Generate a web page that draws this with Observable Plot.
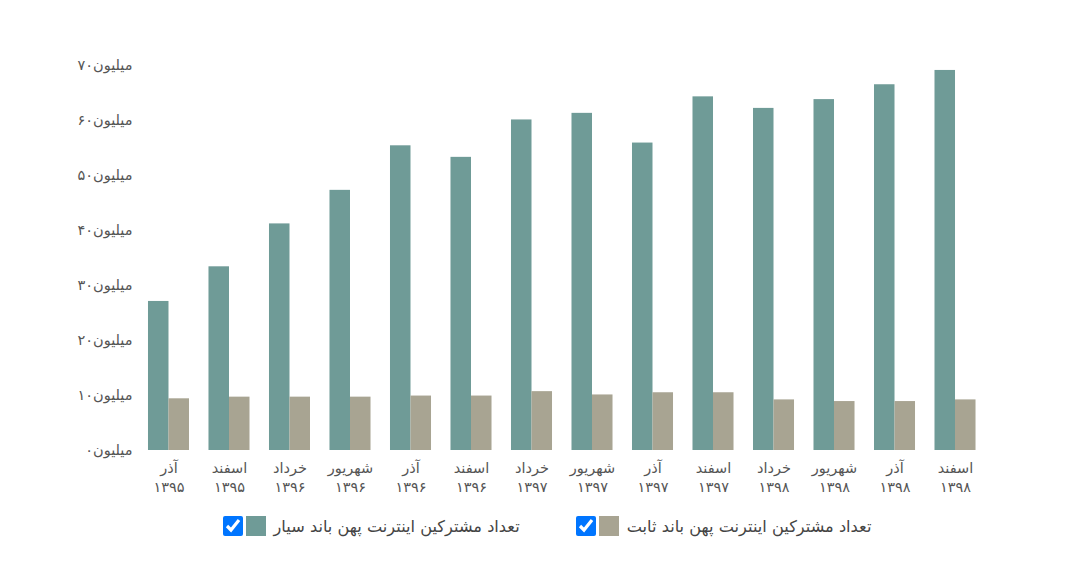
<!DOCTYPE html>
<html>
<head>
<meta charset="utf-8">
<script src="https://cdn.jsdelivr.net/npm/d3@7"></script>
<script src="https://cdn.jsdelivr.net/npm/@observablehq/plot@0.6"></script>
<style>
  html, body { margin: 0; padding: 0; background: #fff; }
  body { width: 1080px; height: 586px; overflow: hidden; font-family: "DejaVu Sans", sans-serif; }
  #legend { display: flex; justify-content: center; align-items: center; gap: 56px; margin-top: 16px; padding-left: 14px; color: #444; font-size: 16.2px; }
  .item { display: flex; align-items: center; direction: ltr; }
  .item input { width: 20px; height: 20px; margin: 0 3px 0 0; }
  .sw { width: 20px; height: 20px; margin-right: 8px; }
</style>
</head>
<body>
<div id="chart"></div>
<div id="legend"></div>
<script>
const months = ["آذر","اسفند","خرداد","شهریور","آذر","اسفند","خرداد","شهریور","آذر","اسفند","خرداد","شهریور","آذر","اسفند"];
const years = ["۱۳۹۵","۱۳۹۵","۱۳۹۶","۱۳۹۶","۱۳۹۶","۱۳۹۶","۱۳۹۷","۱۳۹۷","۱۳۹۷","۱۳۹۷","۱۳۹۸","۱۳۹۸","۱۳۹۸","۱۳۹۸"];
const mobile = [27.1, 33.4, 41.2, 47.3, 55.4, 53.3, 60.1, 61.3, 55.9, 64.3, 62.2, 63.8, 66.5, 69.1];
const fixed = [9.4, 9.7, 9.7, 9.7, 9.9, 9.9, 10.7, 10.1, 10.5, 10.5, 9.2, 8.9, 8.9, 9.2];
const seriesNames = ["تعداد مشترکین اینترنت پهن باند سیار", "تعداد مشترکین اینترنت پهن باند ثابت"];
const seriesColors = ["#6f9b97", "#a8a492"];
const yTicks = [0, 10, 20, 30, 40, 50, 60, 70];
const yTickLabels = ["میلیون۰","میلیون۱۰","میلیون۲۰","میلیون۳۰","میلیون۴۰","میلیون۵۰","میلیون۶۰","میلیون۷۰"];

const groups = months.map((m, i) => i);
const data = [];
groups.forEach(i => {
  data.push({g: i, s: seriesNames[0], v: mobile[i]});
  data.push({g: i, s: seriesNames[1], v: fixed[i]});
});

const chart = Plot.plot({
  width: 1080,
  height: 500,
  marginTop: 65,
  marginBottom: 50,
  marginLeft: 138,
  marginRight: 94.5,
  style: { fontFamily: "DejaVu Sans, sans-serif", color: "#555", background: "#fff" },
  fx: { domain: groups, paddingInner: 0.322, paddingOuter: 0.165, round: false, label: null },
  x: { domain: seriesNames, padding: 0, round: false, axis: null },
  y: { domain: [0, 70], label: null },
  color: { domain: seriesNames, range: seriesColors },
  marks: [
    Plot.barY(data, { fx: "g", x: "s", y: "v", fill: "s" }),
    Plot.axisY({ ticks: yTicks, tickFormat: (d) => yTickLabels[yTicks.indexOf(d)], tickSize: 0, tickPadding: 0, dx: -16, fontSize: 14.5, label: null, fill: "#555" }),
    Plot.axisFx({ anchor: "bottom", tickFormat: (i) => months[i] + "\n" + years[i], tickSize: 0, tickPadding: 9, fontSize: 14.5, lineHeight: 1.3, label: null, fill: "#555" })
  ]
});
document.getElementById("chart").appendChild(chart);

const legend = document.getElementById("legend");
seriesNames.forEach((name, k) => {
  const item = document.createElement("div");
  item.className = "item";
  const cb = document.createElement("input");
  cb.type = "checkbox"; cb.checked = true;
  const sw = document.createElement("span");
  sw.className = "sw"; sw.style.background = seriesColors[k];
  const t = document.createElement("span");
  t.textContent = name;
  t.style.direction = "rtl";
  item.append(cb, sw, t);
  legend.appendChild(item);
});
</script>
</body>
</html>
